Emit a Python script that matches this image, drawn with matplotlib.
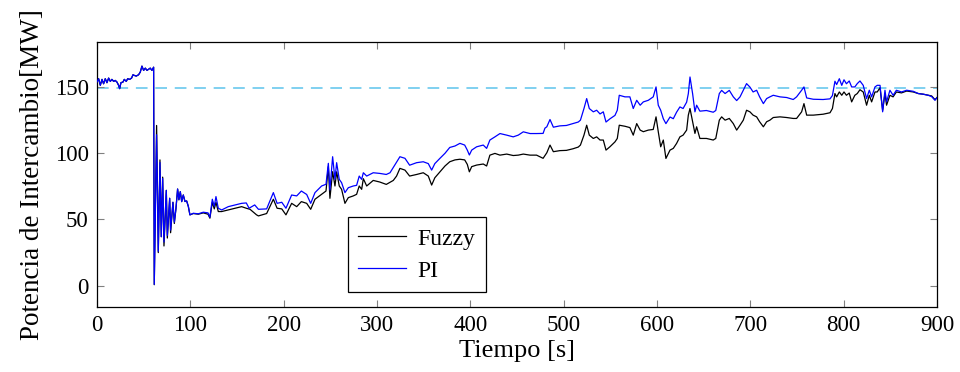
import numpy as np
import matplotlib
matplotlib.use('Agg')
import matplotlib.pyplot as plt

# valores (t en s, potencia en MW)
t_pi = [0, 1.8, 3.6, 5.4, 7.1, 8.9, 10.7, 12.5, 14.3, 16, 17.9, 19.6, 21.4, 23.2, 24.3, 25.7, 27.9, 29.3,
        31.4, 32.9, 35, 37.1, 38.6, 40, 42.1, 44.6, 46.4, 48.2, 50, 51.8, 53.6, 55.4, 57.1, 58.9, 60.7,
        61.4, 63.9, 65.7, 67.5, 68.9, 70.4, 71.8, 74.3, 75.4, 77.9, 78.9, 81.4, 82.9, 84.6, 86.4, 87.8,
        89.3, 90.8, 92.5, 94.3, 96.1, 97.9, 99.6, 103.2, 108.6, 113.9, 119, 121, 123.6, 125.7, 127.5, 130,
        133.6, 140.7, 148, 155, 160, 163, 169, 173, 181.8, 189, 193, 198, 202.5, 208.6, 214, 219, 224.7,
        229, 233.6, 240.7, 245.4, 247.9, 249.6, 252.5, 255, 256.8, 259.6, 262.1, 265.7, 269.3, 274.6,
        278.2, 281, 283.6, 285.4, 289, 296, 303, 310, 314, 319, 324.6, 330, 335, 342.5, 349.6, 355, 358.6,
        362, 367.5, 372.9, 378, 383.6, 388.9, 394, 396.8, 399, 401.5, 406.8, 413.9, 417.5, 421, 426.4,
        431.8, 439, 446, 451.4, 456.8, 464, 471, 478, 480, 482, 485.4, 489, 496, 503, 510, 515.7, 518,
        521.8, 524.7, 527.5, 531.8, 535.4, 539, 542.5, 545.4, 549.6, 555, 557.5, 559.6, 565.7, 571, 574.6,
        578.3, 582, 585.4, 590.7, 596, 599, 601.4, 604, 606.8, 609.6, 614, 617.5, 621, 624.6, 628, 631.8,
        633.6, 635.4, 638.2, 640.7, 642.5, 646, 653, 660.3, 663, 666.8, 669.3, 673, 677.5, 681.8, 685.4,
        689, 692.5, 696, 699.6, 703, 706.8, 710, 714, 717.5, 721, 724.6, 731.8, 739, 746, 749.6, 755,
        757.5, 760.4, 767.5, 778, 785.4, 788, 790.7, 792.5, 795.4, 798, 800.4, 803, 806, 808.6, 812,
        814.6, 817.5, 821, 824.6, 827.5, 830, 833.6, 836, 839, 841.8, 844.3, 846, 849.6, 853, 856.5, 862,
        867.5, 874.6, 880, 885.4, 890.7, 894.3, 897.9, 900]
pi = [153.8, 156.3, 151.3, 155.8, 152.5, 156.3, 153.3, 156.8, 154.3, 155.8, 154.3, 155, 153.8, 151.3, 148.8,
      153.3, 153.8, 155.8, 154.3, 156.3, 155.8, 156.8, 159.3, 158.8, 158.3, 159.3, 161.3, 165.8, 162.6,
      164.3, 162.6, 163.5, 164.3, 162.6, 165,
      1, 114, 26, 93, 37, 81, 33, 72, 38, 66, 42, 63, 48, 58, 73, 65, 71, 63.5, 68.5, 63.6, 64, 60, 53.5,
      54.7, 54.3, 55.5, 55, 51.7, 65.3, 60, 67.3, 58.5, 57.2, 59.7, 61, 62.2, 62.5, 58.5, 61, 57.7, 58, 70.3,
      62.2, 63, 58.5, 68.5, 67.8, 71.5, 68.9, 62.2, 70.3, 75.3, 76.6, 92.4, 72.3, 97.4, 80.3, 92.9, 80.3,
      77.8, 70.3, 74, 75.3, 75.8, 82.8, 80.3, 85.3, 82.8, 85.3, 84.8, 84, 85.3, 91, 97.4, 96.2, 91, 92.9,
      93.6, 92.2, 87.3, 92.2, 96.2, 100, 104.4, 105.5, 107.5, 106.2, 102.4, 98.7, 102.4, 104.9, 106.2,
      103.7, 110, 112.4, 114.9, 113.7, 112.4, 113.7, 116.2, 114.9, 114.9, 115, 119, 120, 125.5, 119.7,
      120.7, 121, 122.4, 123.6, 125, 133.8, 141.3, 133.8, 131.3, 132.5, 129.7, 131.3, 123.6, 126, 128.6,
      132.5, 143.8, 142.6, 142.6, 133.8, 140, 136.3, 138.8, 140, 142.6, 150.1, 136.3, 132.5, 126.1, 122.4,
      127.4, 126.1, 131, 135, 133.8, 138.6, 145, 157.6, 145, 131.3, 136.3, 131.8, 132.3, 131, 132.3, 145.1,
      147.5, 145.1, 147.5, 142.6, 139.8, 142.6, 147.6, 152.6, 150, 146.3, 147.6, 142.6, 137.5, 141.3,
      142.6, 143.8, 142.6, 142.1, 140.6, 142.6, 147.6, 150.1, 141.8, 140.8, 140.6, 141.1, 143.6, 154.4,
      151.9, 156.3, 151.3, 155.5, 152.5, 154.6, 150.1, 150.1, 152.6, 154.6, 151.3, 141.3, 147.6, 142.6,
      150.1, 151.3, 151.3, 131.3, 147.6, 138.8, 147.6, 143.8, 147.6, 146.3, 147.6, 146.8, 145.1, 144.6,
      143.8, 142.8, 140, 142]

t_fz = [0, 1.8, 3.6, 5.4, 7.1, 8.9, 10.7, 12.5, 14.3, 16, 17.9, 19.6, 21.4, 23.2, 24.3, 25.7, 27.9, 29.3,
        31.4, 32.9, 35, 37.1, 38.6, 40, 42.1, 44.6, 46.4, 48.2, 50, 51.8, 53.6, 55.4, 57.1, 58.9, 60.7,
        61.4, 63.9, 65.7, 67.5, 68.9, 70.4, 71.8, 74.3, 75.4, 77.9, 78.9, 81.4, 82.9, 84.6, 86.4, 87.8,
        89.3, 90.8, 92.5, 94.3, 96.1, 97.9, 99.6, 103.2, 108.6, 113.9, 119, 121, 123.6, 125.7, 127.5, 130,
        133.6, 140.7, 148, 155, 160, 164, 171, 173, 181.8, 189, 193, 198, 202.5, 208.6, 214, 219, 224.7,
        229, 233.6, 240.7, 245.4, 247.9, 249.6, 252.5, 255, 256.8, 259.6, 262.1, 265.7, 269.3, 274.6,
        278.2, 281, 283.6, 285.4, 289, 296, 303, 310, 317.5, 321, 324.6, 330, 335, 342.5, 349.6, 355,
        358.6, 362, 367.5, 372.9, 378, 383.6, 388.9, 394, 396.8, 399, 401.5, 406.8, 413.9, 417.5, 421,
        426.4, 431.8, 439, 446, 451.4, 456.8, 464, 471, 478, 482, 485.4, 489, 496, 503, 510, 515.7, 518,
        521.8, 524.7, 527.5, 531.8, 535.4, 539, 542.5, 545.4, 549.6, 555, 557.5, 559.6, 565.7, 571, 574.6,
        578.3, 582, 585.4, 590.7, 596, 599, 601.4, 604, 606.8, 609.6, 614, 617.5, 621, 624.6, 628, 631.8,
        633.6, 635.4, 638.2, 640.7, 642.5, 646, 653, 660.3, 663, 666.8, 669.3, 673, 677.5, 681.8, 685.4,
        689, 692.5, 696, 699.6, 703, 706.8, 710, 714, 717.5, 721, 724.6, 731.8, 739, 746, 749.6, 755,
        757.5, 760.4, 767.5, 778, 785.4, 788, 790.7, 792.5, 795.4, 798, 800.4, 803, 806, 808.6, 812,
        814.6, 817.5, 821, 824.6, 827.5, 830, 833.6, 836, 839, 841.8, 844.3, 846, 849.6, 853, 856.5, 862,
        867.5, 874.6, 880, 885.4, 890.7, 894.3, 897.9, 900]
fuzzy = [153.8, 156.3, 151.3, 155.8, 152.5, 156.3, 153.3, 156.8, 154.3, 155.8, 154.3, 155, 153.8, 151.3,
         148.8, 153.3, 153.8, 155.8, 154.3, 156.3, 155.8, 156.8, 159.3, 158.8, 158.3, 159.3, 161.3, 165.8,
         162.6, 164.3, 162.6, 163.5, 164.3, 162.6, 165,
         0.75, 121, 25, 95, 37, 82, 30, 72, 36, 66, 40, 63, 47, 58, 73, 64.8, 71, 63.5, 68.5, 63.6, 64, 59.8,
         53.5, 54.5, 54, 55, 54, 51, 63, 58, 63, 56, 56, 57.2, 58.5, 59.7, 58.5, 57.7, 53.5, 52.7, 54.5, 65.3,
         58.5, 58, 53.5, 62.2, 59.7, 63.5, 62.2, 57.7, 65.3, 69, 71.5, 89.9, 66, 86.1, 75.3, 86, 75.3, 72.8,
         62.2, 66.5, 67.8, 69, 75.3, 72.8, 80.8, 75.3, 79.5, 78.3, 76.5, 79.5, 82.8, 88.6, 87.3, 82.8, 84,
         85.3, 82.8, 76, 81.5, 86, 90.4, 93.6, 95, 95.5, 95, 91.6, 86, 89.9, 91.1, 91.9, 90.4, 98.6, 99.9,
         98.6, 99.4, 98.3, 98.6, 99.4, 98.6, 98.6, 96.2, 100.4, 106.2, 101.2, 102, 102.2, 103.4, 104.7, 106.2,
         113.7, 121.2, 113.7, 111.2, 112.4, 110, 110, 102.4, 104.9, 108.6, 111.2, 121.2, 120.4, 119.4, 113.7,
         122.4, 117.5, 116.3, 117.5, 118, 127.5, 116.3, 104.9, 110, 96.1, 102.4, 103.7, 107.4, 112.4, 113.7,
         117.5, 128.8, 133.8, 124, 115, 120, 111.2, 111.2, 110, 111.2, 125, 127.5, 125, 126.3, 122.4, 117.5,
         121.2, 125, 132.5, 131.3, 128.8, 127.5, 123.8, 120, 123.8, 125, 127, 127.5, 127, 126.3, 126.3,
         131.3, 137.5, 128.8, 128.8, 129.5, 130.6, 133.8, 145.1, 142.6, 146.3, 143.8, 146.3, 143.8, 145.5,
         138.8, 143.8, 145.1, 148, 146.3, 136.3, 143.8, 138.8, 146.3, 146.3, 149.5, 132.5, 145.1, 136.3,
         143.8, 142.6, 146.3, 145.6, 147, 146.3, 145.1, 144.6, 143.8, 143.3, 140.5, 142]

ref_level = 149  # referencia de intercambio

plt.rcParams['font.family'] = ['Liberation Serif', 'DejaVu Serif']

fig = plt.figure(figsize=(9.6, 3.72), dpi=100)
ax = fig.add_axes([0.101, 0.175, 0.875, 0.712])

ax.axhline(ref_level, color='#7fd0f0', lw=1.4, dashes=(6, 4), zorder=1)
ax.plot(t_fz, fuzzy, color='black', lw=0.9, label='Fuzzy', zorder=2)
ax.plot(t_pi, pi, color='#0000ff', lw=0.9, label='PI', zorder=3)

ax.set_xlim(0, 900)
ax.set_ylim(-16, 184)
ax.set_xticks(np.arange(0, 901, 100))
ax.set_yticks([0, 50, 100, 150])
ax.tick_params(direction='in', top=True, right=True, length=5, width=0.8,
               color='#808080', labelsize=16.5, pad=6)
for s in ax.spines.values():
    s.set_linewidth(0.9)
ax.set_xlabel('Tiempo [s]', fontsize=19, labelpad=3)
ax.set_ylabel('Potencia de Intercambio[MW]', fontsize=19.5, labelpad=7)

leg = ax.legend(loc='lower left', bbox_to_anchor=(0.2985, 0.055), fontsize=17, frameon=True,
                fancybox=False, edgecolor='black', framealpha=1, handlelength=2.0,
                borderpad=0.45, labelspacing=0.45, handletextpad=0.5, borderaxespad=0)
leg.get_frame().set_linewidth(0.9)

plt.savefig('out.png', dpi=100)
